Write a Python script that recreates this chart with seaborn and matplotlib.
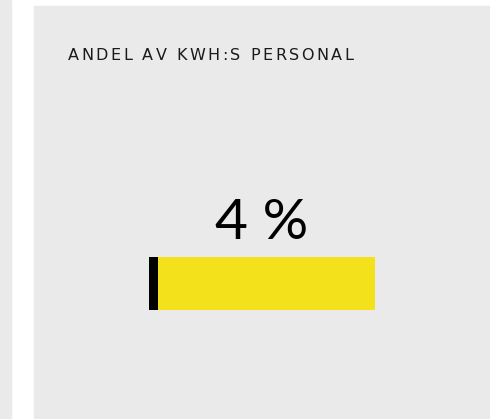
import matplotlib
matplotlib.use("Agg")
import matplotlib.pyplot as plt
import seaborn as sns
import pandas as pd
from matplotlib.patches import Rectangle
from matplotlib.font_manager import findfont, FontProperties
from matplotlib.ft2font import FT2Font

# data
title = "ANDEL AV KWH:S PERSONAL"
share_pct = 4
categories = ["Personal", "Övrigt"]
values = [share_pct, 100 - share_pct]
colors = ["#000000", "#f2e11b"]

W, H = 490, 419
sns.set_theme(style="white")
plt.rcParams['font.family'] = ['Lato', 'DejaVu Sans']

fig = plt.figure(figsize=(W / 100, H / 100), dpi=100)
fig.patch.set_facecolor("white")

# background panels
bg = "#eaeaea"
fig.patches.append(Rectangle((0, 0), 11 / W, 1, transform=fig.transFigure, color=bg, zorder=-5))
fig.patches.append(Rectangle((34 / W, 0), 1 - 34 / W, 1 - 6 / H, transform=fig.transFigure, color=bg, zorder=-5))

# title with letter spacing: place chars using glyph advances
title_size = 11.5
font = FT2Font(findfont(FontProperties(family="DejaVu Sans")))
font.set_size(title_size, 100)
advances = [font.load_char(ord(c)).linearHoriAdvance / 65536 for c in title]
target_w = 285
tracking = (target_w - sum(advances)) / (len(title) - 1)
x_px = 68
for ch, adv in zip(title, advances):
    fig.text(x_px / W, 1 - 55 / H, ch, fontsize=title_size, color="#1a1a1a", va="center",
             ha="left", family=["DejaVu Sans"])
    x_px += adv + tracking

fig.text(262 / W, 1 - 239 / H, f"{share_pct} %", fontsize=41, color="#000000",
         ha="center", va="baseline")

# progress bar
ax = fig.add_axes([149 / W, 1 - 310 / H, 226 / W, 53 / H])
ax.set_zorder(5)
df = pd.DataFrame({"row": [categories[0]], "total": [100], "share": [values[0]]})
sns.barplot(data=df, x="total", y="row", color=colors[1], width=1, ax=ax, orient="h", saturation=1)
sns.barplot(data=df, x="share", y="row", color=colors[0], width=1, ax=ax, orient="h", saturation=1)
for p in ax.patches:
    p.set_edgecolor("none")
ax.set_xlim(0, 100)
ax.set_ylim(0.5, -0.5)
ax.axis("off")

fig.savefig("out.png", dpi=100)
